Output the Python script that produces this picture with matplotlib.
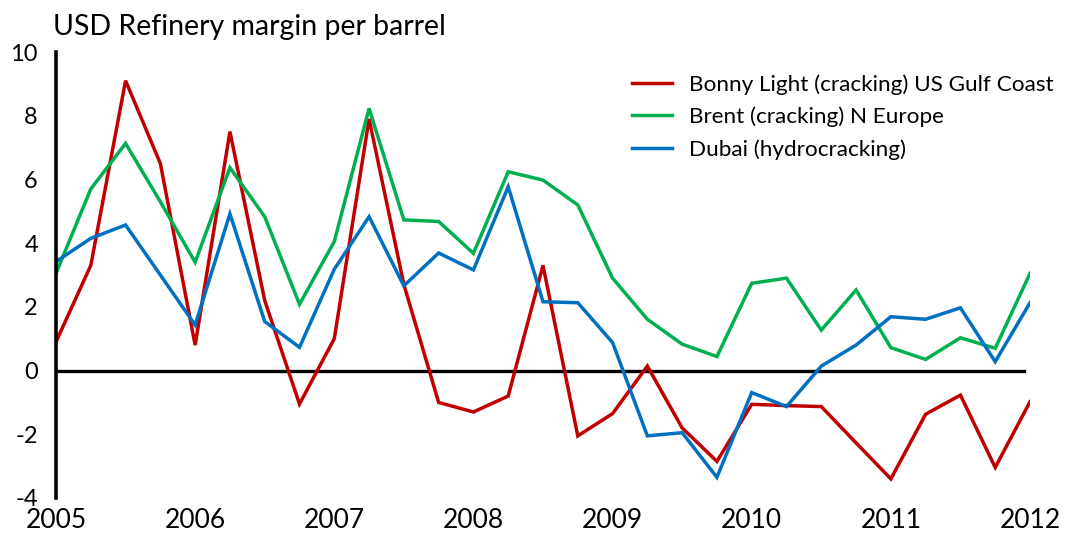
import numpy as np
import matplotlib
matplotlib.use("Agg")
from matplotlib import pyplot as plt

plt.rcParams['font.family'] = ['Lato', 'DejaVu Sans']

# quarterly refinery margins, USD per barrel, 2005 Q1 .. 2012 Q1
quarters = 2005 + np.arange(29) / 4.0

bonny_light = [0.9, 3.3, 9.1, 6.5, 0.8, 7.5, 2.2, -1.05, 1.0, 7.9,
               2.7, -1.0, -1.3, -0.8, 3.3, -2.05, -1.35, 0.14, -1.8, -2.85,
               -1.06, -1.1, -1.13, -2.27, -3.4, -1.37, -0.77, -3.04, -0.98]
brent = [3.05, 5.7, 7.13, 5.3, 3.4, 6.37, 4.83, 2.08, 4.05, 8.23,
         4.73, 4.68, 3.68, 6.24, 5.98, 5.2, 2.9, 1.61, 0.83, 0.44,
         2.74, 2.9, 1.27, 2.53, 0.72, 0.35, 1.03, 0.7, 3.05]
dubai = [3.42, 4.15, 4.57, 3.0, 1.43, 4.92, 1.54, 0.73, 3.18, 4.83,
         2.66, 3.69, 3.16, 5.77, 2.16, 2.13, 0.88, -2.05, -1.95, -3.35,
         -0.69, -1.13, 0.14, 0.8, 1.69, 1.61, 1.97, 0.28, 2.13]

series_names = ['Bonny Light (cracking) US Gulf Coast',
                'Brent (cracking) N Europe',
                'Dubai (hydrocracking)']
colors = ['#C00000', '#00B050', '#0070C0']
years = list(range(2005, 2013))
yticks = list(range(-4, 11, 2))

fig = plt.figure(figsize=(10.75, 5.37), dpi=100)
ax = fig.add_axes([56 / 1075, 1 - 498 / 537, (1030 - 56) / 1075, (498 - 52) / 537])

for vals, name, c in zip([bonny_light, brent, dubai], series_names, colors):
    ax.plot(quarters, vals, color=c, lw=2.5, label=name, solid_joinstyle='miter')

ax.axhline(0, xmin=0, xmax=0.994, color='black', lw=2.4, zorder=1)

ax.set_xlim(2005, 2012)
ax.set_ylim(-4, 10)
ax.set_xticks(years)
ax.set_xticklabels([str(y) for y in years], fontsize=19)
ax.set_yticks(yticks)
ax.set_yticklabels([str(v) for v in yticks], fontsize=17)
ax.tick_params(axis='x', length=0, pad=7)
ax.tick_params(axis='y', length=0, pad=13)

for side in ['top', 'right', 'bottom']:
    ax.spines[side].set_visible(False)
ax.spines['left'].set_linewidth(2.6)
ax.patch.set_alpha(0)

fig.text(53 / 1075, 1 - 27 / 537, 'USD Refinery margin per barrel',
         fontsize=20.5, va='center', ha='left')

leg = ax.legend(loc='upper left', bbox_to_anchor=(0.571, 0.995), frameon=False,
                fontsize=16.2, handlelength=1.75, handletextpad=0.75, labelspacing=0.52)

plt.savefig('out.png', dpi=100)
plt.close()
